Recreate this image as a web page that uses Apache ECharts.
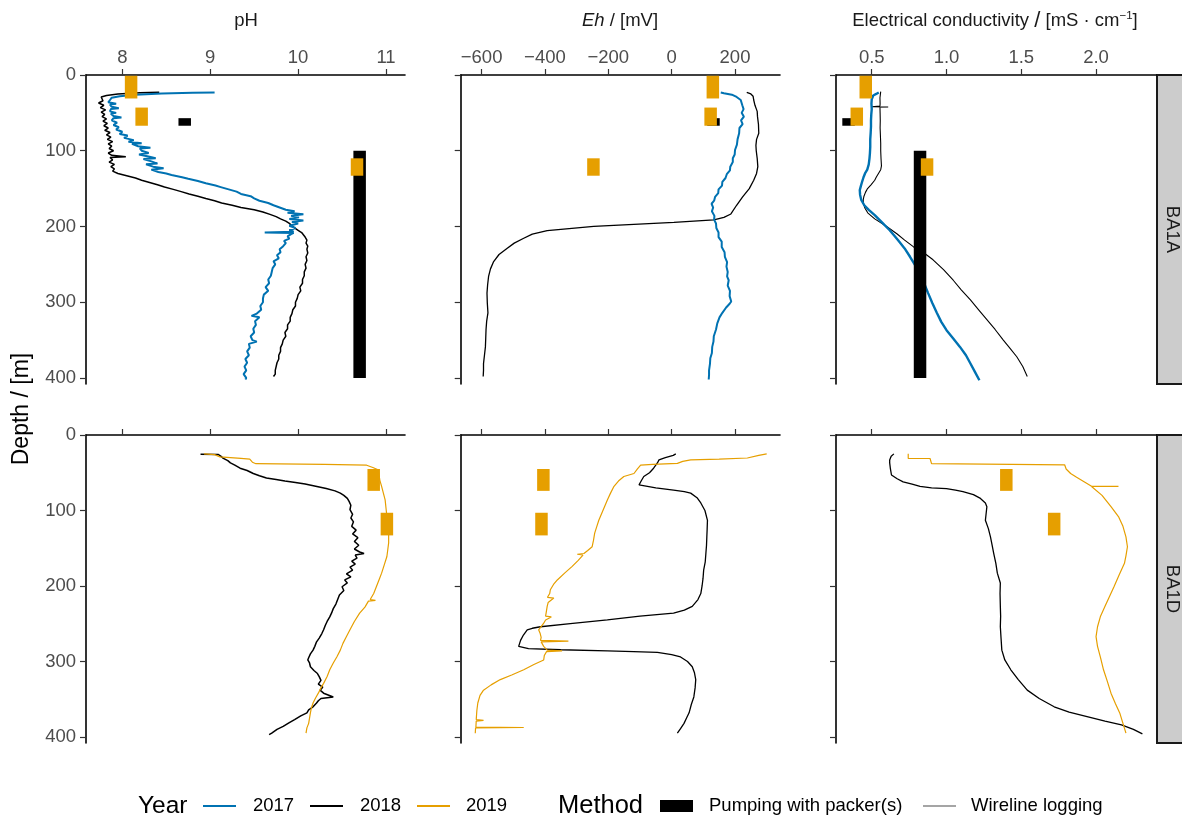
<!DOCTYPE html>
<html>
<head>
<meta charset="utf-8">
<script src="https://cdn.jsdelivr.net/npm/echarts@6/dist/echarts.min.js"></script>
<style>
html,body{margin:0;padding:0;background:#fff;}
#chart{width:1182px;height:818px;}
</style>
</head>
<body>
<div id="chart"></div>
<script>
// ---------------- tick values / labels ----------------
const depthTicks = [0, 100, 200, 300, 400];
const phTicks = [8, 9, 10, 11];
const ehTicks = [-600, -400, -200, 0, 200];
const ecTicks = [0.5, 1.0, 1.5, 2.0];
const ecTickLabels = ['0.5', '1.0', '1.5', '2.0'];
const wells = ['BA1A', 'BA1D'];
const years = ['2017', '2018', '2019'];
const methods = ['Pumping with packer(s)', 'Wireline logging'];

// ---------------- BA1A wireline logs ----------------
const ba1a_ph17_depth = [23,23.5,24.5,26,28,30,33,36,38,39,42,44,45,48,50,51,54,56,57,60,63,66,69,72,75,78,80,83,86,88,90,91,94,96,97,100,103,105,108,110,111,114,117,118,121,123,125,128,130,132,135,137,140,143,146,148,151,154,157,160,163,166,169,172,175,178,180,182,184,186,188,190,192,194,196,199,202,205,207,208,208.5,210,213,216,219,222,226,230,234,238,242,246,250,255,260,265,270,275,280,285,290,295,300,305,310,315,318,320,325,330,335,340,345,350,352,355,360,365,370,375,380,385,390,395,400,402];
const ba1a_ph17 = [9.05,8.8,8.45,8.15,7.97,7.88,7.86,7.84,7.93,7.86,7.88,7.96,7.87,7.86,7.93,7.87,7.9,7.99,7.9,7.88,7.94,7.9,7.96,7.93,8.0,7.97,8.06,8.02,8.13,8.07,8.22,8.11,8.18,8.32,8.2,8.22,8.3,8.19,8.31,8.38,8.24,8.33,8.4,8.27,8.35,8.47,8.33,8.41,8.5,8.56,8.68,8.75,8.86,8.95,9.06,9.12,9.21,9.3,9.35,9.46,9.5,9.56,9.66,9.72,9.79,9.86,9.96,9.88,10.06,9.92,10.01,9.9,10.06,9.93,10.0,9.9,9.97,9.9,9.95,9.62,9.95,9.92,9.88,9.9,9.84,9.86,9.83,9.79,9.8,9.76,9.78,9.72,9.74,9.71,9.7,9.69,9.66,9.67,9.63,9.66,9.61,9.6,9.6,9.57,9.58,9.53,9.47,9.56,9.51,9.52,9.49,9.5,9.46,9.48,9.53,9.44,9.45,9.42,9.44,9.4,9.42,9.39,9.41,9.38,9.41,9.4];

const ba1a_ph18_depth = [22.7,23.5,25,27,29,31,34,37,40,43,46,49,52,55,58,61,64,67,70,73,76,79,82,85,88,91,94,97,100,103,106,108,109,112,115,118,121,124,127,130,133,136,139,142,145,148,151,154,157,160,163,166,169,172,175,178,181,184,187,190,193,196,199,202,205,208,211,214,218,222,226,230,235,240,245,250,255,260,265,270,275,280,285,290,295,300,305,310,315,320,325,330,335,340,345,350,355,360,365,370,375,380,385,390,395,398];
const ba1a_ph18 = [8.42,8.2,7.95,7.82,7.76,7.74,7.78,7.73,7.79,7.75,7.81,7.76,7.8,7.77,7.82,7.78,7.83,7.79,7.84,7.8,7.86,7.82,7.87,7.83,7.89,7.84,7.88,7.85,7.9,7.84,7.88,8.04,7.86,7.89,7.85,7.91,7.87,7.91,7.89,7.95,8.05,8.15,8.22,8.31,8.4,8.48,8.58,8.67,8.76,8.86,8.95,9.05,9.13,9.25,9.35,9.5,9.6,9.68,9.75,9.8,9.86,9.9,9.93,9.96,10.0,10.04,10.06,10.08,10.1,10.09,10.11,10.1,10.11,10.09,10.1,10.08,10.09,10.07,10.07,10.05,10.05,10.02,10.03,10.0,9.99,9.97,9.97,9.94,9.93,9.91,9.91,9.88,9.88,9.85,9.86,9.83,9.82,9.8,9.8,9.78,9.78,9.76,9.75,9.74,9.74,9.72];

const ba1a_eh17_depth = [23,24,26,29,33,40,45,50,55,60,65,70,77,85,92,99,105,110,115,121,126,131,136,141,146,151,156,161,166,170,175,180,186,191,196,202,208,214,220,227,234,240,247,253,260,266,271,278,285,292,299,302,307,314,320,328,336,345,352,359,367,374,381,390,396,402];
const ba1a_eh17 = [155,165,190,205,218,223,227,221,228,219,224,214,213,208,206,200,199,193,193,185,184,174,170,160,159,148,147,137,134,126,131,127,135,134,140,141,148,148,158,158,167,168,175,173,177,175,180,177,184,183,188,183,172,160,151,144,140,133,132,128,127,122,121,118,118,117];

const ba1a_eh18_depth = [23,25,28,33,40,48,55,65,77,85,93,100,110,121,130,139,150,161,172,183.5,188,191.4,194.5,200,205.5,210,215.6,222,228.8,237,246.4,256,266,277,288,301,314,325,336,348,359,370,381,390,398];
const ba1a_eh18 = [237,250,257,259,263,270,271,274,275,268,266,267,270,272,268,259,245,224,205,187,165,133,7,-246,-393,-440,-467,-497,-519,-545,-562,-572,-578,-581,-583,-582,-580,-584,-586,-587,-588,-591,-594,-594,-595];

const ba1a_ec17_depth = [23,25,27,29,32,38,45,52,60,68,76,85,95,103,110,118,125,130,135,140,146,152,158,165,172,178,185,190,196,205,212,218,229,240,251,262,275,288,301,314,326,337,348,359,370,381,392,403];
const ba1a_ec17 = [0.547,0.53,0.51,0.505,0.5,0.498,0.5,0.497,0.495,0.495,0.493,0.49,0.49,0.488,0.485,0.48,0.47,0.455,0.445,0.437,0.428,0.42,0.422,0.43,0.45,0.48,0.52,0.545,0.575,0.62,0.65,0.675,0.72,0.756,0.79,0.823,0.85,0.877,0.905,0.935,0.965,1.0,1.045,1.09,1.13,1.16,1.19,1.22];

const ba1a_ec18_depth = [22,24,30,38,41,42,42.3,42.6,50,60,70,80,90,100,110,120,125,130,135,139,145,150,155,160,165,170,176,182,190,200,210,218,227,235,244,257,271,284,297,310,323,336,350,361,372,385,398];
const ba1a_ec18 = [0.56,0.557,0.555,0.556,0.555,0.5,0.61,0.555,0.556,0.557,0.556,0.558,0.56,0.56,0.562,0.565,0.56,0.545,0.53,0.52,0.495,0.472,0.458,0.448,0.443,0.445,0.455,0.473,0.52,0.6,0.67,0.72,0.78,0.85,0.91,0.98,1.045,1.1,1.16,1.215,1.27,1.325,1.38,1.425,1.47,1.51,1.54];

// ---------------- BA1D wireline logs ----------------
const ba1d_ph18_depth = [25.6,25.8,28,31,34,37,40,44,47,51,54,57,59,61,63,65,68,71,74,77,80,84,88,93,99,105,110,115,121,126,131,136,141,146,151,155,157,159,163,167,171,175,179,184,188,192,196,201,206,212,218,224,230,236,241,247,252,258,263,269,274,280,285,290,295,298,302,307,312,316,320,325,330,334,338,342,347,349,352,355,360,364,368,372,377,381,386,390,395,397];
const ba1d_ph18 = [8.89,9.09,9.12,9.15,9.2,9.23,9.28,9.34,9.42,9.49,9.56,9.64,9.75,9.85,9.97,10.08,10.2,10.32,10.42,10.48,10.52,10.56,10.58,10.6,10.59,10.62,10.6,10.63,10.61,10.66,10.62,10.68,10.64,10.69,10.64,10.7,10.75,10.65,10.67,10.61,10.65,10.59,10.62,10.55,10.6,10.53,10.56,10.5,10.52,10.47,10.45,10.43,10.4,10.38,10.36,10.33,10.31,10.29,10.27,10.24,10.21,10.19,10.17,10.14,10.12,10.11,10.13,10.14,10.18,10.22,10.24,10.26,10.23,10.28,10.25,10.29,10.4,10.26,10.23,10.21,10.17,10.12,10.1,10.03,9.96,9.9,9.83,9.76,9.7,9.67];

const ba1d_ph19_depth = [25,26,29,31,32,36,37,38,39,40,43,46,52,60,68,77,86,97,108,120,132,143,152,161,172,183,192,201,210,218,219,220,228,236,247,258,267,276,285,294,302,311,320,329,335,342,348,355,362,368,375,382,388,395];
const ba1d_ph19 = [8.93,9.05,9.11,9.35,9.45,9.48,9.49,9.52,10.3,10.78,10.85,10.91,10.92,10.93,10.95,10.97,10.99,11.0,11.01,11.02,11.03,11.03,11.02,11.01,10.98,10.95,10.92,10.89,10.86,10.82,10.88,10.8,10.76,10.7,10.64,10.59,10.55,10.51,10.48,10.44,10.4,10.36,10.33,10.29,10.26,10.23,10.2,10.17,10.15,10.14,10.13,10.12,10.1,10.09];

const ba1d_eh18_depth = [25,27,30,33,37,44,50,55,60,66,70,73,75,77,83,90,100,113,125,135,146,157,168,179,190,200,210,218,227,232,236,240,245,250,254,256,258,265,272,280,283,284.5,286,287,288,291,294,300,307,315,324,335,347,357,368,375,382,389,395];
const ba1d_eh18 = [13,5,-20,-40,-45,-57,-70,-88,-95,-103,-50,6,40,60,80,92,105,113,112,111,110,108,106,101,99,96,92,83,65,40,6,-100,-203,-320,-414,-440,-456,-468,-477,-483,-452,-350,-203,-120,-45,0,28,50,65,72,76,74,70,62,55,47,39,28,18];

const ba1d_eh19_depth = [25,27,30.5,32,33,35,37.5,39,40,45,51,55,61,68,77,86,100,113,122,130,140,148,153,157,158,159,166,174,183,192,198,205,210,215,216,222,227,235,240,241,245,250,258,263,268,272,273,274,280,285,286,287,292,298,304,311,318,324,331,338,345,355,365,377,378,379,387,387.5,388,395];
const ba1d_eh19 = [300,275,239,150,60,35,18,-60,-98,-108,-119,-151,-168,-182,-193,-203,-217,-230,-237,-243,-247,-251,-265,-277,-298,-280,-295,-314,-338,-361,-373,-383,-385,-392,-372,-390,-393,-396,-398,-380,-398,-405,-420,-415,-412,-414,-326,-412,-404,-393,-346,-395,-402,-404,-435,-467,-505,-541,-570,-594,-605,-612,-615,-617,-594,-617,-618,-467,-619,-620];

const ba1d_ec18_depth = [25,28,33,37,45,53,58,62,65,68,70,71,73,75,79,84,90,95,104,113,124,135,146,157,170,183,196,210,227,240,254,270,285,298,311,324,338,349,360,367,373,379,384,390,396];
const ba1d_ec18 = [0.648,0.63,0.62,0.62,0.625,0.632,0.67,0.71,0.77,0.823,0.9,1.0,1.06,1.11,1.18,1.227,1.26,1.27,1.265,1.26,1.28,1.294,1.305,1.316,1.33,1.34,1.36,1.358,1.36,1.362,1.36,1.365,1.37,1.39,1.43,1.48,1.54,1.62,1.72,1.82,1.94,2.06,2.17,2.25,2.31];

const ba1d_ec19_depth = [25,31,31.1,38,39.5,45,51,56,62,68,68.1,68.2,80,95,108,121,135,148,160,170,185,201,214,227,240,254,267,280,295,311,326,342,356,369,382,395];
const ba1d_ec19 = [0.744,0.744,0.89,0.9,1.79,1.8,1.83,1.87,1.92,1.97,2.15,1.97,2.04,2.1,2.15,2.18,2.2,2.21,2.2,2.19,2.155,2.12,2.09,2.06,2.03,2.01,2.0,2.01,2.03,2.05,2.075,2.1,2.13,2.16,2.18,2.2];

// ---------------- Pumping with packer(s) intervals ----------------
const ba1a_pk19_top = [1, 43, 110];
const ba1a_pk19_bottom = [31, 67, 133];
const ba1a_pk19_ph = [8.10, 8.22, 10.67];
const ba1a_pk19_eh = [130, 123, -247];
const ba1a_pk19_ec = [0.46, 0.40, 0.87];

const ba1a_pk18_top = [57, 100];
const ba1a_pk18_bottom = [67, 400];
const ba1a_pk18_ph = [8.71, 10.70];
const ba1a_pk18_eh = [132, null];
const ba1a_pk18_ec = [0.345, 0.823];

const ba1d_pk19_top = [45, 103];
const ba1d_pk19_bottom = [74, 133];
const ba1d_pk19_ph = [10.86, 11.01];
const ba1d_pk19_eh = [-405, -411];
const ba1d_pk19_ec = [1.40, 1.72];

// ---------------- styling ----------------
const C17 = '#0072B2', C18 = '#000000', C19 = '#E69F00';
const FONT = '"Liberation Sans", Arial, sans-serif';
const TICKCOL = '#4D4D4D';
const TXT = 18.5;

const colLeft = [86, 460.7, 836];
const colWidth = [319, 319.3, 320];
const rowTop = [75, 435];
const rowHeight = [309, 308];
const colRange = [[7.587, 11.216], [-666, 342], [0.261, 2.401]];
const colTicks = [phTicks, ehTicks, ecTicks];

function fmtTick(col, v) {
  if (col === 2) { const i = ecTicks.indexOf(v); return i >= 0 ? ecTickLabels[i] : String(v); }
  return String(v).replace('-', '\u2212');
}

const grids = [], xAxes = [], yAxes = [];
for (let r = 0; r < 2; r++) {
  for (let c = 0; c < 3; c++) {
    const gi = r * 3 + c;
    grids.push({left: colLeft[c], top: rowTop[r], width: colWidth[c], height: rowHeight[r], containLabel: false});
    xAxes.push({
      gridIndex: gi, type: 'value', position: 'top',
      min: colRange[c][0], max: colRange[c][1],
      axisLine: {show: true, onZero: false, lineStyle: {color: '#000', width: 1.6}},
      axisTick: {show: true, length: 6, lineStyle: {color: '#333', width: 1.2}, customValues: colTicks[c]},
      axisLabel: {show: r === 0, customValues: colTicks[c], color: TICKCOL, fontSize: TXT, fontFamily: FONT, margin: 8,
        formatter: (v) => fmtTick(c, v)},
      splitLine: {show: false}
    });
    yAxes.push({
      gridIndex: gi, type: 'value', inverse: true, min: 0, max: 408,
      axisLine: {show: true, onZero: false, lineStyle: {color: '#000', width: 1.6}},
      axisTick: {show: true, length: 6, lineStyle: {color: '#333', width: 1.2}, customValues: depthTicks},
      axisLabel: {show: c === 0, customValues: depthTicks, color: TICKCOL, fontSize: TXT, fontFamily: FONT, margin: 10},
      splitLine: {show: false}
    });
  }
}

function zip(d, v) { return d.map((dd, i) => [v[i], dd]); }
function line(gi, name, depth, vals, color, width) {
  return {type: 'line', name: name, xAxisIndex: gi, yAxisIndex: gi, data: zip(depth, vals),
    showSymbol: false, symbol: 'none', lineStyle: {color: color, width: width}, clip: true, silent: true, z: 2};
}
function rects(gi, name, xs, tops, bottoms, color) {
  const data = [];
  xs.forEach((x, i) => { if (x !== null) data.push([x, tops[i], bottoms[i]]); });
  return {type: 'custom', name: name, xAxisIndex: gi, yAxisIndex: gi, data: data, clip: true, silent: true, z: 3,
    encode: {x: 0, y: [1, 2]},
    renderItem: function (params, api) {
      const a = api.coord([api.value(0), api.value(1)]);
      const b = api.coord([api.value(0), api.value(2)]);
      const w = 12.5;
      return {type: 'rect', shape: {x: a[0] - w / 2, y: Math.min(a[1], b[1]), width: w, height: Math.abs(b[1] - a[1])},
        style: {fill: color}};
    }};
}

const series = [
  // BA1A
  line(0, '2018', ba1a_ph18_depth, ba1a_ph18, C18, 1.5),
  line(0, '2017', ba1a_ph17_depth, ba1a_ph17, C17, 2),
  line(1, '2018', ba1a_eh18_depth, ba1a_eh18, C18, 1.3),
  line(1, '2017', ba1a_eh17_depth, ba1a_eh17, C17, 2),
  line(2, '2018', ba1a_ec18_depth, ba1a_ec18, C18, 1.1),
  line(2, '2017', ba1a_ec17_depth, ba1a_ec17, C17, 2.4),
  // BA1D
  line(3, '2018', ba1d_ph18_depth, ba1d_ph18, C18, 1.5),
  line(3, '2019', ba1d_ph19_depth, ba1d_ph19, C19, 1.2),
  line(4, '2018', ba1d_eh18_depth, ba1d_eh18, C18, 1.3),
  line(4, '2019', ba1d_eh19_depth, ba1d_eh19, C19, 1.2),
  line(5, '2018', ba1d_ec18_depth, ba1d_ec18, C18, 1.3),
  line(5, '2019', ba1d_ec19_depth, ba1d_ec19, C19, 1.2),
  // packer intervals
  rects(0, '2018', ba1a_pk18_ph, ba1a_pk18_top, ba1a_pk18_bottom, C18),
  rects(0, '2019', ba1a_pk19_ph, ba1a_pk19_top, ba1a_pk19_bottom, C19),
  rects(1, '2018', ba1a_pk18_eh, ba1a_pk18_top, ba1a_pk18_bottom, C18),
  rects(1, '2019', ba1a_pk19_eh, ba1a_pk19_top, ba1a_pk19_bottom, C19),
  rects(2, '2018', ba1a_pk18_ec, ba1a_pk18_top, ba1a_pk18_bottom, C18),
  rects(2, '2019', ba1a_pk19_ec, ba1a_pk19_top, ba1a_pk19_bottom, C19),
  rects(3, '2019', ba1d_pk19_ph, ba1d_pk19_top, ba1d_pk19_bottom, C19),
  rects(4, '2019', ba1d_pk19_eh, ba1d_pk19_top, ba1d_pk19_bottom, C19),
  rects(5, '2019', ba1d_pk19_ec, ba1d_pk19_top, ba1d_pk19_bottom, C19)
];

// ---------------- texts, strips, legend ----------------
const graphics = [];
const titleStyle = {fontSize: TXT, fontFamily: FONT, fill: '#1A1A1A', align: 'center', verticalAlign: 'middle'};
graphics.push({type: 'text', x: 246, y: 21, style: Object.assign({text: 'pH'}, titleStyle)});
graphics.push({type: 'text', x: 620, y: 21, style: Object.assign({text: '{i|Eh} / [mV]',
  rich: {i: {fontStyle: 'italic', fontSize: TXT, fontFamily: FONT, fill: '#1A1A1A'}}}, titleStyle)});
graphics.push({type: 'text', x: 995, y: 21, style: Object.assign({text: 'Electrical conductivity {s|/} [mS \u00B7 cm{sup|\u22121}]',
  rich: {sup: {fontSize: 11.5, fontFamily: FONT, fill: '#1A1A1A', verticalAlign: 'top', lineHeight: 22},
         s: {fontSize: 22, fontFamily: FONT, fill: '#1A1A1A'}}}, titleStyle)});
graphics.push({type: 'text', x: 22, y: 409, rotation: Math.PI / 2,
  style: {text: 'Depth / [m]', fontSize: 23, fontFamily: FONT, fill: '#000', align: 'center', verticalAlign: 'middle'}});

for (let r = 0; r < 2; r++) {
  graphics.push({type: 'rect', shape: {x: 1157, y: rowTop[r], width: 40, height: rowHeight[r]},
    style: {fill: '#CCCCCC', stroke: '#1A1A1A', lineWidth: 2}});
  graphics.push({type: 'text', x: 1172, y: rowTop[r] + rowHeight[r] / 2, rotation: -Math.PI / 2,
    style: {text: wells[r], fontSize: TXT, fontFamily: FONT, fill: '#1A1A1A', align: 'center', verticalAlign: 'middle'}});
}

const LY = 806;
const legText = {fontSize: TXT, fontFamily: FONT, fill: '#000', verticalAlign: 'middle', align: 'left'};
graphics.push({type: 'text', x: 138, y: LY, style: Object.assign({}, legText, {text: 'Year', fontSize: 24.5})});
const yearCols = [C17, C18, C19];
const yearLineX = [203, 310, 417];
const yearTextX = [253, 360, 466];
years.forEach((y, i) => {
  graphics.push({type: 'line', shape: {x1: yearLineX[i], y1: LY, x2: yearLineX[i] + 33, y2: LY}, style: {stroke: yearCols[i], lineWidth: 2}});
  graphics.push({type: 'text', x: yearTextX[i], y: LY, style: Object.assign({}, legText, {text: y})});
});
graphics.push({type: 'text', x: 558, y: LY, style: Object.assign({}, legText, {text: 'Method', fontSize: 25.5})});
graphics.push({type: 'rect', shape: {x: 660, y: LY - 6, width: 33, height: 12}, style: {fill: '#000'}});
graphics.push({type: 'text', x: 709, y: LY, style: Object.assign({}, legText, {text: methods[0]})});
graphics.push({type: 'line', shape: {x1: 923, y1: LY, x2: 956, y2: LY}, style: {stroke: '#4D4D4D', lineWidth: 1.2}});
graphics.push({type: 'text', x: 971, y: LY, style: Object.assign({}, legText, {text: methods[1]})});

const chart = echarts.init(document.getElementById('chart'), null, {renderer: 'canvas'});
chart.setOption({
  animation: false,
  backgroundColor: '#ffffff',
  grid: grids,
  xAxis: xAxes,
  yAxis: yAxes,
  series: series,
  graphic: graphics
});
</script>
</body>
</html>
